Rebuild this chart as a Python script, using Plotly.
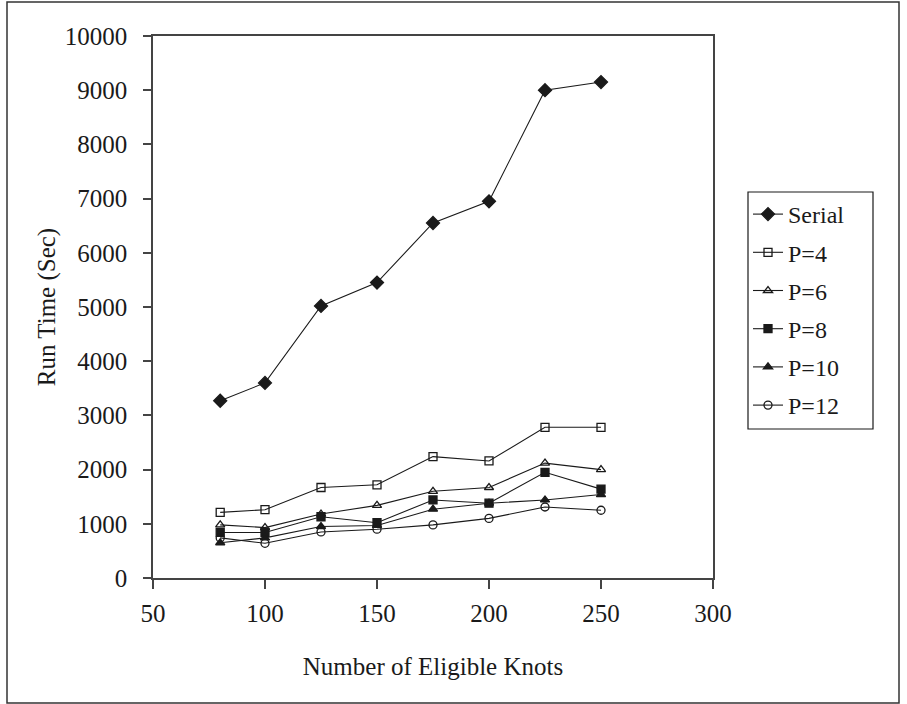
import plotly.graph_objects as go

knots = [80, 100, 125, 150, 175, 200, 225, 250]
serial = [3270, 3600, 5020, 5450, 6550, 6950, 9000, 9150]
p4 = [1210, 1260, 1670, 1720, 2240, 2160, 2780, 2780]
p6 = [980, 930, 1180, 1340, 1600, 1670, 2120, 2000]
p8 = [840, 840, 1130, 1020, 1440, 1380, 1950, 1640]
p10 = [650, 740, 950, 970, 1270, 1380, 1440, 1540]
p12 = [740, 640, 850, 900, 980, 1100, 1310, 1250]
x_ticks = [50, 100, 150, 200, 250, 300]
y_ticks = [0, 1000, 2000, 3000, 4000, 5000, 6000, 7000, 8000, 9000, 10000]

series = [
    ("Serial", serial, "diamond", 10),
    ("P=4", p4, "square-open", 8),
    ("P=6", p6, "triangle-up-open", 8),
    ("P=8", p8, "square", 8),
    ("P=10", p10, "triangle-up", 8),
    ("P=12", p12, "circle-open", 8),
]

FONT = "Liberation Serif"
INK = "#1a1a1a"
FRAME = "#444444"

fig = go.Figure()
for i, (name, vals, sym, size) in enumerate(series):
    fig.add_trace(go.Scatter(
        x=knots, y=vals, name=name, mode="lines+markers",
        legendgroup=str(i),
        line=dict(color=INK, width=1.1),
        marker=dict(symbol=sym, size=size, color=INK,
                    line=dict(color=INK, width=1.3)),
    ))

# plot area in pixels: x 153..713, y 36..578
L, R, T, B = 153, 713, 36, 578
W, H = 907, 704
pw, ph = R - L, B - T

def px_x(x):
    return (x - L) / pw

def px_y(y):
    return (B - y) / ph

fig.update_layout(
    width=W, height=H,
    margin=dict(l=L, r=W - R, t=T, b=H - B, pad=0),
    paper_bgcolor="white", plot_bgcolor="white",
    font=dict(family=FONT, size=25, color=INK),
    showlegend=True,
    legend=dict(
        x=px_x(748), y=px_y(192), xanchor="left", yanchor="top",
        borderwidth=0, bgcolor="rgba(0,0,0,0)",
        font=dict(family=FONT, size=24, color=INK),
        tracegroupgap=4, itemwidth=30,
    ),
    xaxis=dict(
        range=[50, 300], tickvals=x_ticks, ticktext=[str(v) for v in x_ticks],
        showgrid=False, zeroline=False, showline=True, mirror=True,
        linecolor=FRAME, linewidth=1.5,
        ticks="outside", ticklen=9, tickcolor=FRAME, tickwidth=1.5,
        tickfont=dict(family=FONT, size=25, color=INK),
        ticklabelstandoff=3,
        title=dict(text="Number of Eligible Knots", standoff=32,
                   font=dict(family=FONT, size=25)),
    ),
    yaxis=dict(
        range=[0, 10000], tickvals=y_ticks, ticktext=[str(v) for v in y_ticks],
        showgrid=False, zeroline=False, showline=True, mirror=True,
        linecolor=FRAME, linewidth=1.5,
        ticks="outside", ticklen=8, tickcolor=FRAME, tickwidth=1.5,
        tickfont=dict(family=FONT, size=25, color=INK),
        ticklabelstandoff=11,
        title=dict(text="Run Time (Sec)", standoff=2,
                   font=dict(family=FONT, size=25)),
    ),
    shapes=[
        dict(type="rect", xref="paper", yref="paper",
             x0=px_x(7), x1=px_x(899), y0=px_y(703), y1=px_y(2),
             line=dict(color="#333333", width=1.5),
             fillcolor="rgba(0,0,0,0)", layer="below"),
        dict(type="rect", xref="paper", yref="paper",
             x0=px_x(748), x1=px_x(873), y0=px_y(429), y1=px_y(192),
             line=dict(color=INK, width=1.2),
             fillcolor="white", layer="below"),
    ],
)

fig.write_html("out.html")
